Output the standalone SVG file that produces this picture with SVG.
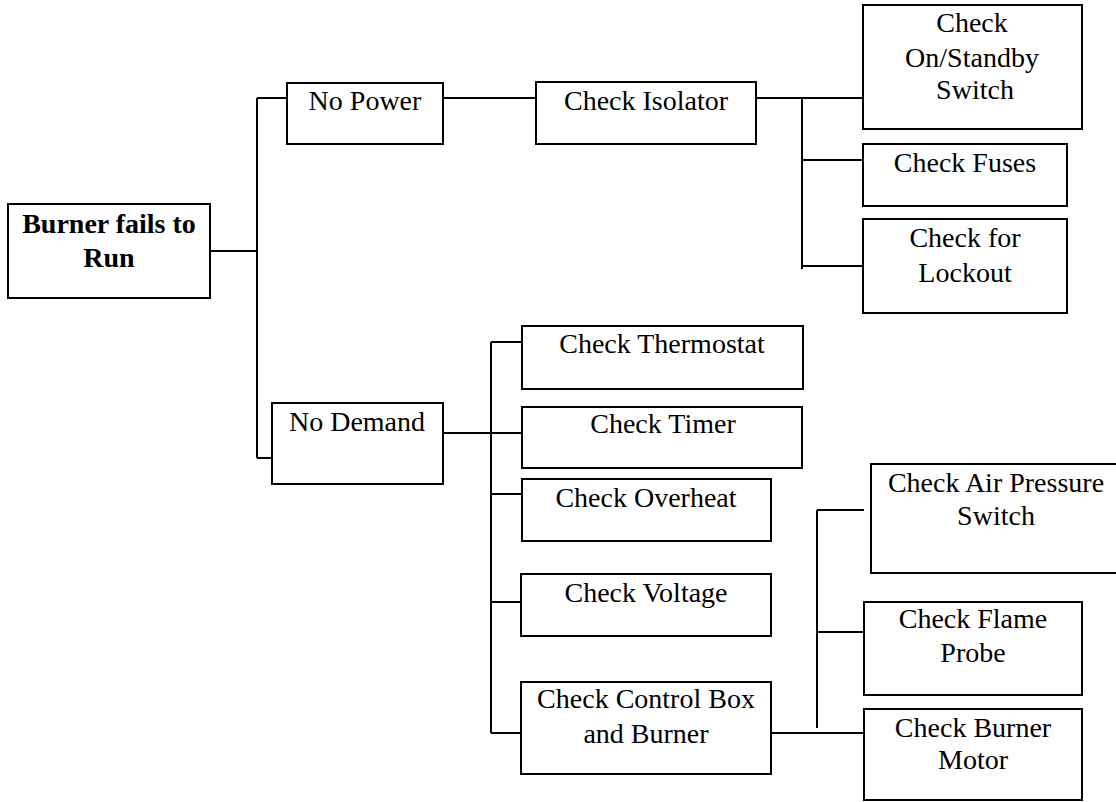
<svg xmlns="http://www.w3.org/2000/svg" width="1116" height="802" viewBox="0 0 1116 802">
<style>
.box{fill:#fff;stroke:#000;stroke-width:2}
.t{font-family:'Liberation Serif',Tinos,'Times New Roman',Times,'DejaVu Serif',serif;font-size:28px;fill:#000;text-anchor:middle}
.b{font-weight:bold}
.c{stroke:#000;stroke-width:2;fill:none}
</style>
<rect width="1116" height="802" fill="#fff"/>
<g id="connectors">
<path class="c" d="M210,251H257M257,98V458M257,98H287M257,458H272"/>
<path class="c" d="M443,98H536M756,98H863M802,98V269M802,160H863M802,266H863"/>
<path class="c" d="M443,433H522M491,342V733M491,342H522M491,494H522M491,602H521M491,733H521"/>
<path class="c" d="M771,733H864M817,510V728M817,510H864M817,632H864"/>
</g>
<g id="root"><rect class="box" x="8" y="204" width="202" height="94"/><text class="t b" font-family="Liberation Serif, serif" x="109" y="233">Burner fails to</text><text class="t b" font-family="Liberation Serif, serif" x="109" y="267">Run</text></g>
<g id="nopower"><rect class="box" x="287" y="83" width="156" height="61"/><text class="t" font-family="Liberation Serif, serif" x="365" y="110">No Power</text></g>
<g id="isolator"><rect class="box" x="536" y="82" width="220" height="62"/><text class="t" font-family="Liberation Serif, serif" x="646" y="110">Check Isolator</text></g>
<g id="standby"><rect class="box" x="863" y="5" width="219" height="124"/><text class="t" font-family="Liberation Serif, serif" x="972" y="32">Check</text><text class="t" font-family="Liberation Serif, serif" x="972" y="67">On/Standby</text><text class="t" font-family="Liberation Serif, serif" x="975" y="99">Switch</text></g>
<g id="fuses"><rect class="box" x="863" y="144" width="204" height="62"/><text class="t" font-family="Liberation Serif, serif" x="965" y="172">Check Fuses</text></g>
<g id="lockout"><rect class="box" x="863" y="219" width="204" height="94"/><text class="t" font-family="Liberation Serif, serif" x="965" y="247">Check for</text><text class="t" font-family="Liberation Serif, serif" x="965" y="282">Lockout</text></g>
<g id="nodemand"><rect class="box" x="272" y="403" width="171" height="81"/><text class="t" font-family="Liberation Serif, serif" x="357" y="431">No Demand</text></g>
<g id="thermostat"><rect class="box" x="522" y="326" width="281" height="63"/><text class="t" font-family="Liberation Serif, serif" x="662" y="353">Check Thermostat</text></g>
<g id="timer"><rect class="box" x="522" y="407" width="280" height="61"/><text class="t" font-family="Liberation Serif, serif" x="663" y="433">Check Timer</text></g>
<g id="overheat"><rect class="box" x="522" y="479" width="249" height="62"/><text class="t" font-family="Liberation Serif, serif" x="646" y="507">Check Overheat</text></g>
<g id="voltage"><rect class="box" x="521" y="574" width="250" height="62"/><text class="t" font-family="Liberation Serif, serif" x="646" y="602">Check Voltage</text></g>
<g id="controlbox"><rect class="box" x="521" y="682" width="250" height="92"/><text class="t" font-family="Liberation Serif, serif" x="646" y="708">Check Control Box</text><text class="t" font-family="Liberation Serif, serif" x="646" y="743">and Burner</text></g>
<g id="airpressure"><rect class="box" x="871" y="464" width="250" height="109"/><text class="t" font-family="Liberation Serif, serif" x="996" y="492">Check Air Pressure</text><text class="t" font-family="Liberation Serif, serif" x="996" y="525">Switch</text></g>
<g id="flameprobe"><rect class="box" x="864" y="602" width="218" height="93"/><text class="t" font-family="Liberation Serif, serif" x="973" y="628">Check Flame</text><text class="t" font-family="Liberation Serif, serif" x="973" y="662">Probe</text></g>
<g id="burnermotor"><rect class="box" x="864" y="709" width="218" height="91"/><text class="t" font-family="Liberation Serif, serif" x="973" y="737">Check Burner</text><text class="t" font-family="Liberation Serif, serif" x="973" y="769">Motor</text></g>
</svg>
